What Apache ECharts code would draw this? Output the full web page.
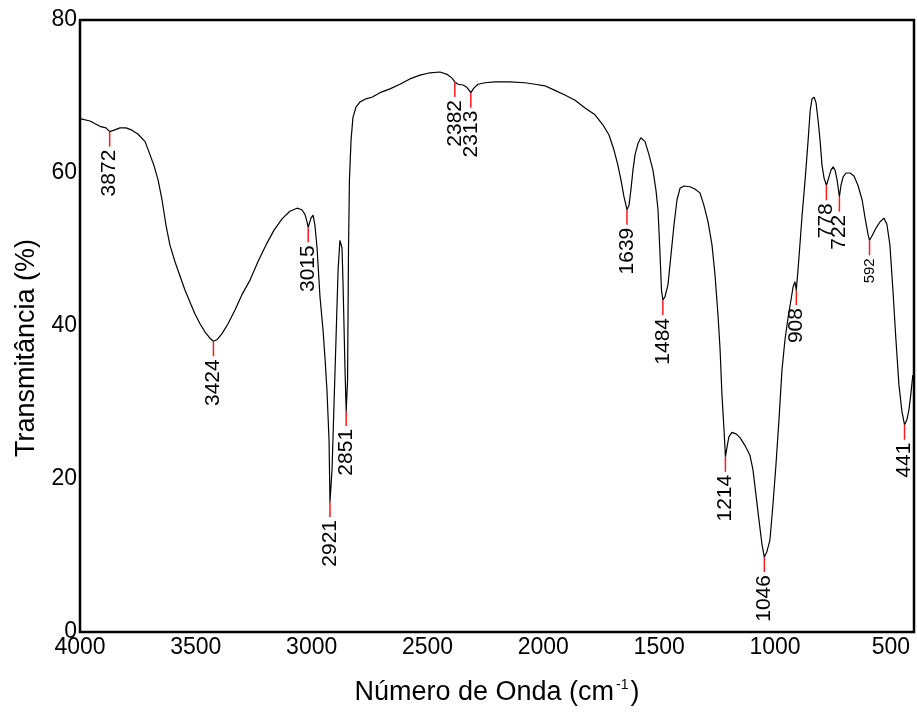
<!DOCTYPE html>
<html>
<head>
<meta charset="utf-8">
<script src="https://cdn.jsdelivr.net/npm/echarts@6/dist/echarts.min.js"></script>
<style>
  html, body { margin: 0; padding: 0; background: #fff; }
  #chart { width: 917px; height: 713px; }
</style>
</head>
<body>
<div id="chart"></div>
<script>
// FTIR spectrum: wavenumber (cm-1) and transmittance (%)
const waveNumber = [
  4000, 3957, 3914, 3888, 3872, 3853, 3827, 3801, 3776, 3750, 3719, 3698, 3681, 3663, 3646, 3629,
  3612, 3590, 3568, 3547, 3525, 3504, 3482, 3460, 3439, 3424, 3409, 3387, 3361, 3331, 3301, 3266,
  3232, 3197, 3163, 3128, 3094, 3063, 3042, 3029, 3020, 3015, 3003, 2994, 2986, 2977, 2964, 2951,
  2942, 2934, 2925, 2921, 2912, 2903, 2895, 2886, 2878, 2869, 2865, 2860, 2856, 2851, 2845, 2841,
  2837, 2830, 2822, 2809, 2791, 2766, 2740, 2705, 2662, 2619, 2576, 2532, 2489, 2446, 2416, 2394,
  2382, 2368, 2347, 2330, 2313, 2300, 2282, 2252, 2209, 2144, 2079, 2036, 1993, 1950, 1907, 1863,
  1820, 1777, 1743, 1717, 1695, 1678, 1665, 1652, 1639, 1630, 1622, 1613, 1604, 1591, 1579, 1561,
  1544, 1527, 1514, 1505, 1497, 1490, 1484, 1475, 1462, 1449, 1436, 1423, 1410, 1393, 1367, 1346,
  1324, 1307, 1289, 1272, 1259, 1246, 1237, 1229, 1220, 1214, 1207, 1199, 1186, 1168, 1151, 1130,
  1108, 1095, 1082, 1069, 1056, 1046, 1035, 1022, 1009, 996, 983, 970, 957, 944, 931, 922,
  914, 908, 900, 891, 883, 870, 857, 848, 840, 831, 823, 814, 805, 797, 788, 778,
  767, 758, 749, 741, 732, 722, 715, 706, 693, 676, 659, 642, 624, 611, 598, 592,
  581, 564, 547, 530, 517, 504, 491, 478, 465, 452, 441, 431, 422, 414, 405
];
const transmittance = [
  67.1, 66.8, 66.1, 65.9, 65.4, 65.6, 65.9, 65.9, 65.6, 65.1, 64.1, 62.4, 61.0, 59.1, 56.5, 53.2,
  50.6, 48.4, 46.5, 44.7, 43.1, 41.6, 40.3, 39.2, 38.4, 38.0, 38.2, 39.0, 40.3, 42.1, 44.1, 46.0,
  48.4, 50.6, 52.5, 54.0, 55.0, 55.4, 55.2, 54.6, 53.6, 52.9, 54.1, 54.5, 53.2, 50.3, 43.8, 39.5,
  35.6, 31.6, 25.1, 17.0, 21.2, 30.3, 38.2, 47.3, 51.2, 50.2, 46.0, 39.5, 34.2, 28.9, 32.9, 49.9,
  59.1, 64.3, 67.2, 68.6, 69.3, 69.7, 69.9, 70.5, 71.0, 71.6, 72.3, 72.8, 73.1, 73.2, 72.9, 72.4,
  71.9, 71.6, 71.5, 71.2, 70.5, 71.1, 71.6, 71.8, 71.9, 71.9, 71.8, 71.6, 71.4, 70.8, 70.2, 69.5,
  68.5, 67.6, 66.3, 65.0, 63.0, 61.0, 59.1, 56.9, 55.2, 55.8, 57.8, 60.4, 62.4, 63.9, 64.6, 64.1,
  62.4, 60.4, 57.8, 55.2, 49.9, 44.7, 43.4, 43.8, 45.4, 49.3, 53.2, 56.5, 58.0, 58.3, 58.2, 57.9,
  57.4, 55.8, 53.6, 50.6, 46.7, 41.4, 36.9, 31.0, 26.4, 22.9, 24.2, 25.5, 26.1, 25.9, 25.4, 24.4,
  23.1, 21.2, 17.9, 14.6, 11.4, 9.8, 10.5, 12.0, 16.6, 21.8, 27.7, 34.2, 38.2, 41.0, 43.4, 45.1,
  45.8, 44.7, 47.6, 51.2, 54.5, 59.1, 64.3, 68.2, 69.7, 69.9, 69.2, 66.9, 64.1, 61.0, 59.3, 58.4,
  59.5, 60.4, 60.8, 60.4, 59.1, 56.9, 58.4, 59.5, 60.0, 60.0, 59.6, 58.4, 56.5, 54.1, 51.9, 51.2,
  51.8, 52.8, 53.6, 54.1, 53.3, 50.6, 44.7, 38.2, 32.3, 28.8, 27.1, 27.7, 29.0, 31.0, 33.6
];

// Annotated band positions and the transmittance at each band minimum
const peakWaveNumber = [3872, 3424, 3015, 2921, 2851, 2382, 2313, 1639, 1484, 1214, 1046, 908, 778, 722, 592, 441];
const peakTransmittance = [65.4, 38.0, 52.9, 17.0, 28.9, 71.9, 70.5, 55.2, 43.4, 22.9, 9.8, 44.7, 58.4, 56.9, 51.2, 27.1];
const peakLabelSmall = [592];

const xTickValues = [4000, 3500, 3000, 2500, 2000, 1500, 1000, 500];
const yTickValues = [0, 20, 40, 60, 80];

const FONT = '"Liberation Sans", Arial, sans-serif';

const spectrum = waveNumber.map((w, i) => [w, transmittance[i]]);
const peaks = peakWaveNumber.map((w, i) => [w, peakTransmittance[i]]);

const chart = echarts.init(document.getElementById('chart'), null, { renderer: 'canvas' });

chart.setOption({
  animation: false,
  backgroundColor: '#fff',
  grid: {
    left: 80, right: 3, top: 20, bottom: 81,
    show: true, borderColor: '#000', borderWidth: 2.5, backgroundColor: 'transparent'
  },
  xAxis: {
    type: 'value',
    inverse: true,
    min: 400,
    max: 4000,
    splitLine: { show: false },
    axisLine: { show: false },
    axisTick: { show: false },
    axisLabel: {
      customValues: xTickValues,
      formatter: v => String(v),
      color: '#000', fontFamily: FONT, fontSize: 23, margin: 4
    },
    name: '{t|Número de Onda (cm}{s|-1}{t|)}',
    nameLocation: 'middle',
    nameGap: 46,
    nameTextStyle: {
      rich: {
        t: { fontFamily: FONT, fontSize: 27, color: '#000', lineHeight: 30 },
        s: { fontFamily: FONT, fontSize: 14, color: '#000', lineHeight: 30, verticalAlign: 'top', padding: [0, 2, 0, 2] }
      }
    }
  },
  yAxis: {
    type: 'value',
    min: 0,
    max: 80,
    splitLine: { show: false },
    axisLine: { show: false },
    axisTick: { show: false },
    axisLabel: {
      customValues: yTickValues,
      formatter: v => String(v),
      color: '#000', fontFamily: FONT, fontSize: 23, margin: 3
    },
    name: 'Transmitância (%)',
    nameLocation: 'middle',
    nameGap: 38,
    nameTextStyle: { fontFamily: FONT, fontSize: 27, color: '#000', padding: [0, 44, 0, 0] }
  },
  series: [
    {
      type: 'line',
      data: spectrum,
      showSymbol: false,
      symbol: 'none',
      lineStyle: { color: '#000', width: 1.2 },
      z: 3
    },
    {
      type: 'custom',
      data: peaks,
      z: 4,
      renderItem: function (params, api) {
        const w = api.value(0);
        const p = api.coord([w, api.value(1)]);
        const small = peakLabelSmall.indexOf(w) >= 0;
        return {
          type: 'group',
          children: [
            {
              type: 'line',
              shape: { x1: p[0], y1: p[1], x2: p[0], y2: p[1] + 15 },
              style: { stroke: '#ff1a1a', lineWidth: 1.5 }
            },
            {
              type: 'text',
              x: p[0],
              y: p[1] + 18,
              rotation: Math.PI / 2,
              style: {
                text: String(w),
                fill: '#000',
                font: (small ? 15 : 21) + 'px ' + FONT,
                align: 'right',
                verticalAlign: 'middle'
              }
            }
          ]
        };
      }
    }
  ]
});
</script>
</body>
</html>
